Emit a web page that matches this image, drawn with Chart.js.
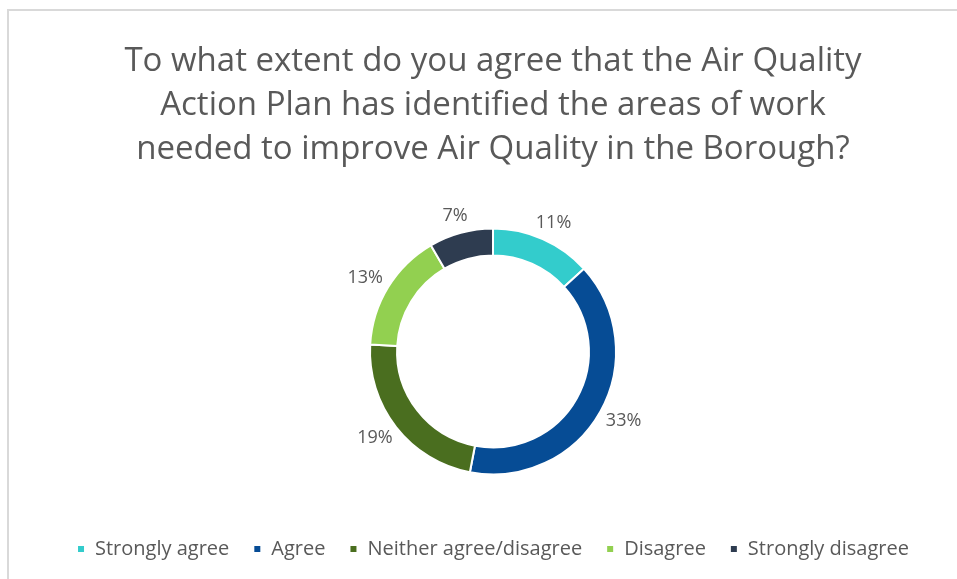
<!DOCTYPE html>
<html>

<head>
	<title>Air Quality Action Plan survey</title>
	<script src="https://cdn.jsdelivr.net/npm/chart.js@4.4.1/dist/chart.umd.min.js"></script>
	<style>
		body {
			margin: 0;
			background: #ffffff;
		}

		#wrap {
			position: relative;
			width: 957px;
			height: 579px;
		}

		/* thin grey frame along the top and left edge */
		#frame {
			position: absolute;
			left: 7px;
			top: 9px;
			right: 0;
			bottom: 0;
			border-top: 2px solid #d9d9d9;
			border-left: 2px solid #d9d9d9;
		}

		#myChart {
			position: absolute;
			left: 0;
			top: 0;
		}
	</style>
</head>

<body>
	<div id="wrap">
		<div id="frame"></div>
		<canvas id="myChart" width="957" height="579"></canvas>
	</div>
	<script>
		const titleLines = [
			"To what extent do you agree that the Air Quality",
			"Action Plan has identified the areas of work",
			"needed to improve Air Quality in the Borough?"
		];
		const categories = ["Strongly agree", "Agree", "Neither agree/disagree", "Disagree", "Strongly disagree"];
		const shares = [11, 33, 19, 13, 7];
		const sliceColours = ["#33cccc", "#064c95", "#4a6e1f", "#92d050", "#2e3c50"];

		const TEXT_GREY = "#595959";
		const FONT = "'Open Sans'";

		// percentage labels placed just outside each slice
		const pctLabels = {
			id: "pctLabels",
			afterDatasetsDraw(chart) {
				const ctx = chart.ctx;
				const meta = chart.getDatasetMeta(0);
				ctx.save();
				ctx.font = "18px " + FONT;
				ctx.fillStyle = TEXT_GREY;
				ctx.textAlign = "center";
				ctx.textBaseline = "middle";
				meta.data.forEach((arc, i) => {
					const p = arc.getProps(["x", "y", "startAngle", "endAngle", "outerRadius"], true);
					const mid = (p.startAngle + p.endAngle) / 2;
					const txt = shares[i] + "%";
					const w = ctx.measureText(txt).width;
					const h = 18;
					const r = p.outerRadius + 9;
					const cx = p.x + Math.cos(mid) * (r + w / 2);
					const cy = p.y + Math.sin(mid) * (r + h / 2);
					ctx.fillText(txt, cx, cy);
				});
				ctx.restore();
			}
		};

		new Chart("myChart", {
			type: "doughnut",
			data: {
				labels: categories,
				datasets: [{
					data: shares,
					backgroundColor: sliceColours,
					borderColor: "#ffffff",
					borderWidth: 2,
					radius: 123
				}]
			},
			options: {
				responsive: false,
				animation: false,
				cutout: "78%",
				layout: {
					padding: { left: 29, right: 0, top: 0, bottom: 10 }
				},
				plugins: {
					title: {
						display: true,
						text: titleLines,
						color: TEXT_GREY,
						font: { family: FONT, size: 33, weight: "normal", lineHeight: 1.333 },
						padding: { top: 40, bottom: 16 }
					},
					legend: {
						position: "bottom",
						labels: {
							color: TEXT_GREY,
							font: { family: FONT, size: 20 },
							boxWidth: 8,
							boxHeight: 8,
							padding: 24
						}
					},
					tooltip: { enabled: false }
				}
			},
			plugins: [pctLabels]
		});
	</script>
</body>

</html>
